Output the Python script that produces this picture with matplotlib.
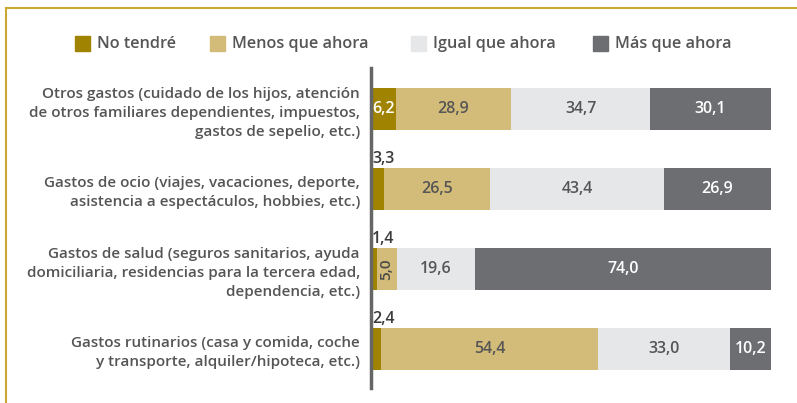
import matplotlib.pyplot as plt
from matplotlib.patches import Rectangle
from matplotlib.lines import Line2D

plt.rcParams['font.family'] = ['Open Sans', 'DejaVu Sans']

categories = [
    "Otros gastos (cuidado de los hijos, atención\nde otros familiares dependientes, impuestos,\ngastos de sepelio, etc.)",
    "Gastos de ocio (viajes, vacaciones, deporte,\nasistencia a espectáculos, hobbies, etc.)",
    "Gastos de salud (seguros sanitarios, ayuda\ndomiciliaria, residencias para la tercera edad,\ndependencia, etc.)",
    "Gastos rutinarios (casa y comida, coche\ny transporte, alquiler/hipoteca, etc.)",
]
series_names = ["No tendré", "Menos que ahora", "Igual que ahora", "Más que ahora"]
no_tendre = [6.2, 3.3, 1.4, 2.4]
menos = [28.9, 26.5, 5.0, 54.4]
igual = [34.7, 43.4, 19.6, 33.0]
mas = [30.1, 26.9, 74.0, 10.2]

colors = ["#a08300", "#d3bc79", "#e6e7e9", "#6d6e72"]
text_colors = ["white", "#555555", "#555555", "white"]
gold_line = "#c9a934"

fig = plt.figure(figsize=(7.97, 4.03), dpi=100)
ax = fig.add_axes([371 / 797, 15 / 403, 400 / 797, 320 / 403])

series = [no_tendre, menos, igual, mas]
y = range(len(categories))
left = [0.0] * len(categories)
for k, vals in enumerate(series):
    ax.barh(y, vals, left=left, height=0.525, color=colors[k], edgecolor="none")
    for i, v in enumerate(vals):
        lbl = f"{v:.1f}".replace(".", ",")
        cx = left[i] + v / 2
        if k == 0 and v < 5:
            ax.text(0.3, i - 0.28, lbl, ha="left", va="bottom", fontsize=11.5,
                    fontweight="semibold", color="#3a3a3a")
        elif v < 6:
            ax.text(cx, i, lbl, ha="center", va="center", rotation=90, fontsize=11,
                    fontweight="semibold", color="#4a4a4a")
        else:
            ax.text(cx, i, lbl, ha="center", va="center", fontsize=11.5,
                    fontweight="semibold", color=text_colors[k])
        left[i] += v

ax.set_xlim(0, 100)
ax.set_ylim(3.4875, -0.5125)
ax.set_yticks(list(y))
ax.set_yticklabels(categories, fontsize=11, fontweight="semibold", color="#555555",
                   linespacing=1.45)
ax.tick_params(axis="y", length=0, pad=8)
ax.set_xticks([])
for s in ["top", "right", "bottom"]:
    ax.spines[s].set_visible(False)
ax.spines["left"].set_color("#666666")
ax.spines["left"].set_linewidth(2.5)

# legend
legend_x = [75, 210, 411, 593]
for k, name in enumerate(series_names):
    fig.patches.append(Rectangle((legend_x[k] / 797, 1 - 51 / 403), 15 / 797, 15 / 403,
                                 transform=fig.transFigure, color=colors[k]))
    fig.text((legend_x[k] + 22) / 797, 1 - 44 / 403, name, ha="left", va="center",
             fontsize=11.7, fontweight="semibold", color="#555555")

# frame
fig.add_artist(Line2D([6 / 797, 1], [1 - 8 / 403, 1 - 8 / 403], transform=fig.transFigure,
                      color=gold_line, linewidth=1.5))
fig.add_artist(Line2D([6 / 797, 6 / 797], [0, 1 - 8 / 403], transform=fig.transFigure,
                      color=gold_line, linewidth=1.5))

fig.savefig("out.png", dpi=100)
